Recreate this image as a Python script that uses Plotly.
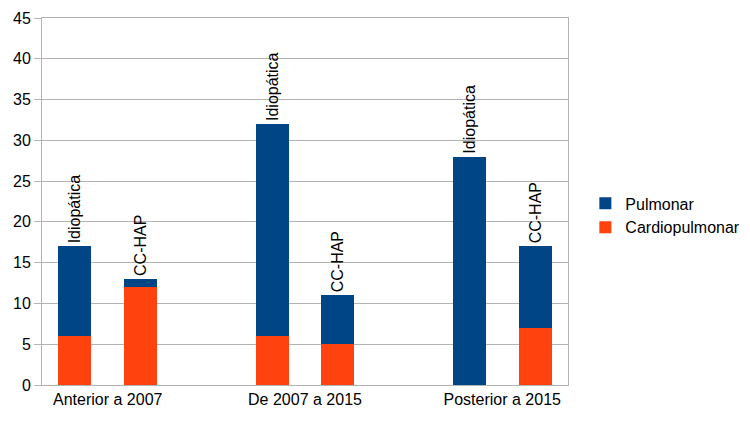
import plotly.graph_objects as go

groups = ["Anterior a 2007", "De 2007 a 2015", "Posterior a 2015"]
bar_labels = ["Idiopática", "CC-HAP"]
# values per group: [Idiopática, CC-HAP]
cardiopulmonar = [[6, 12], [6, 5], [0, 7]]
pulmonar = [[11, 1], [26, 6], [28, 10]]

y_ticks = list(range(0, 50, 5))

# position slots: two bars per group plus an empty slot between groups
xs, cardio_vals, pulm_vals, texts = [], [], [], []
for gi in range(len(groups)):
    for bi in range(len(bar_labels)):
        xs.append(gi * 3 + bi)
        cardio_vals.append(cardiopulmonar[gi][bi])
        pulm_vals.append(pulmonar[gi][bi])
        texts.append(bar_labels[bi])

FONT = "Liberation Sans, Arial, sans-serif"

fig = go.Figure()
fig.add_trace(go.Bar(x=xs, y=cardio_vals, name="Cardiopulmonar",
                     marker=dict(color="#ff420e", line=dict(width=0)), width=0.5))
fig.add_trace(go.Bar(x=xs, y=pulm_vals, name="Pulmonar",
                     marker=dict(color="#004586", line=dict(width=0)), width=0.5,
                     text=texts, textposition="outside", textangle=-90,
                     textfont=dict(family=FONT, size=16, color="black"),
                     cliponaxis=False, constraintext="none"))

fig.update_layout(
    barmode="stack",
    width=750, height=429,
    margin=dict(l=42, r=182, t=18, b=44, autoexpand=False),
    paper_bgcolor="white", plot_bgcolor="white",
    font=dict(family=FONT, size=16, color="black"),
    showlegend=True,
    legend=dict(x=1.033, y=0.462, xanchor="left", yanchor="middle",
                traceorder="reversed", font=dict(size=16), itemwidth=30,
                tracegroupgap=0, bgcolor="rgba(0,0,0,0)"),
    xaxis=dict(range=[-0.5, 7.5], tickvals=[g * 3 + 0.5 for g in range(len(groups))],
               ticktext=groups, showgrid=False, zeroline=False, automargin=False,
               showline=True, linecolor="#b3b3b3", linewidth=1, mirror=True,
               ticks="", tickfont=dict(size=16)),
    yaxis=dict(range=[0, 45], tickvals=y_ticks, showgrid=True, gridcolor="#b3b3b3",
               gridwidth=1, zeroline=False, showline=True, linecolor="#b3b3b3",
               linewidth=1, mirror=True, ticks="outside", ticklen=7, automargin=False,
               tickcolor="#b3b3b3", tickfont=dict(size=16)),
)

fig.write_html("out.html", config={"displayModeBar": False},
               post_script="document.body.style.margin='0';document.body.style.padding='0';")
